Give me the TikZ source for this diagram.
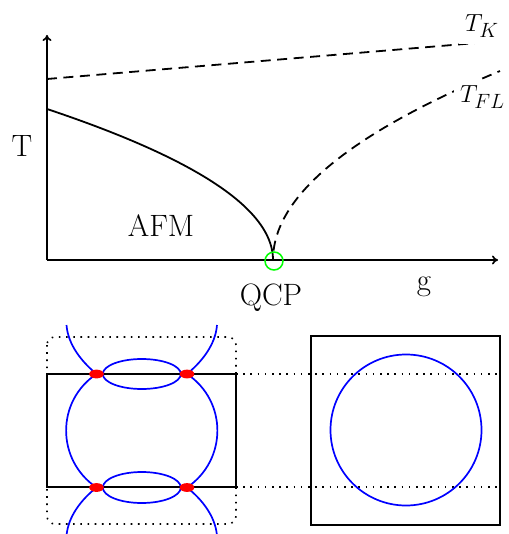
\documentclass[tikz,border=0pt]{standalone}
\usetikzlibrary{arrows.meta}
\begin{document}
\begin{tikzpicture}[x=1bp,y=-1bp,
  lbl/.style={inner sep=0pt,font=\fontsize{31}{37}\selectfont},
  axis/.style={line width=1.7bp,-{To[length=6bp,width=9bp]}},
  curve/.style={line width=1.8bp},
  dsh/.style={line width=1.8bp,dash pattern=on 10bp off 6.5bp},
  fs/.style={blue,line width=1.7bp},
  dots/.style={line width=1.6bp,dash pattern=on 1.6bp off 5.6bp},
  box/.style={line width=1.7bp},
  hot/.style={fill=red,draw=none}]
\useasboundingbox (0,0) rectangle (509,534);
% phase diagram
\coordinate (O) at (47,260);
\coordinate (ytop) at (47,35);
\coordinate (xend) at (498,260);
\draw[axis] (O) -- (ytop);
\draw[axis] (O) -- (xend);
\coordinate (k0) at (47,79);
\coordinate (k1) at (500,41);
\draw[dsh] (k0) -- (k1);
\draw[curve] plot[domain=0:1,samples=80,smooth] ({273-226*\x*\x},{260-151*\x});
\draw[dsh] plot[domain=0.05:1,samples=80,smooth] ({273+227*\x*\x},{260-189*\x});
\node[draw=green,line width=1.5bp,circle,minimum size=18bp,inner sep=0pt] (qcp) at (274,261) {};
\node[lbl,anchor=base] (tl) at (22,157) {T};
\node[lbl,anchor=base] (afm) at (161,236) {AFM};
\node[lbl,anchor=base] (qcpl) at (271,305) {QCP};
\node[lbl,anchor=base] (gl) at (424,290) {g};
\node[lbl,anchor=base west,fill=white,inner sep=6bp] (tk) at (459,32) {$T_K$};
\node[lbl,anchor=base west,fill=white,inner sep=6bp] (tfl) at (454,103) {$T_{FL}$};
% folded zone
\draw[dots,rounded corners=8bp] (47,337) rectangle (236,524);
\draw[box] (47,374) rectangle (236,487);
\draw[dots] (236,374) -- (500,374);
\draw[dots] (236,487) -- (500,487);
% right square
\draw[box] (311,336) rectangle (500,525);
\draw[fs] (406,430) circle[radius=75.5];
% blue Fermi surface pieces
\coordinate (a1) at (96.5,374);
\coordinate (a2) at (187,374);
\coordinate (b1) at (96.5,487.5);
\coordinate (b2) at (187,487.5);
\draw[fs] (141.8,374) ellipse[x radius=39,y radius=15];
\draw[fs] (141.8,487.5) ellipse[x radius=39,y radius=15.5];
\draw[fs] (a1) .. controls (56,401) and (56,460) .. (b1);
\draw[fs] (a2) .. controls (227.5,401) and (227.5,460) .. (b2);
\draw[fs] (a1) .. controls (82,362) and (68,345) .. (66.5,325);
\draw[fs] (a2) .. controls (201.5,362) and (215.5,345) .. (217,325);
\draw[fs] (b1) .. controls (82,499) and (68,516) .. (66.5,536);
\draw[fs] (b2) .. controls (201.5,499) and (215.5,516) .. (217,536);
\foreach \p in {a1,a2,b1,b2} \fill[hot] (\p) ellipse[x radius=7.3,y radius=4.4];
\end{tikzpicture}
\end{document}
